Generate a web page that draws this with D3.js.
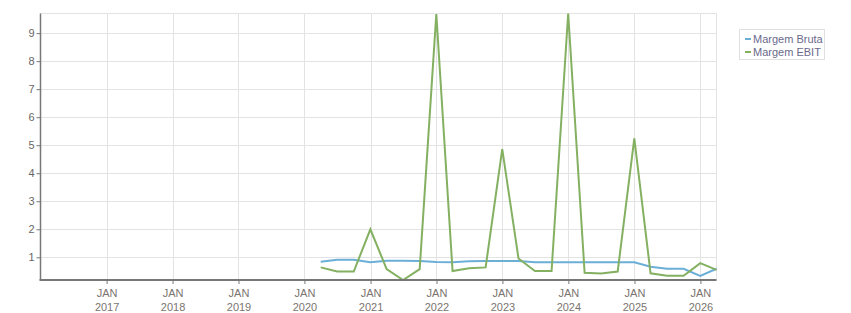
<!DOCTYPE html>
<html><head><meta charset="utf-8">
<script src="https://cdn.jsdelivr.net/npm/d3@7"></script>
<style>
body{margin:0;background:#fff;}
svg{display:block;font-family:"Liberation Sans",Arial,sans-serif;}
</style></head><body>
<svg id="c" width="851" height="313"></svg>
<script>
const quarters = ["2020-03-31","2020-06-30","2020-09-30","2020-12-31",
"2021-03-31","2021-06-30","2021-09-30","2021-12-31",
"2022-03-31","2022-06-30","2022-09-30","2022-12-31",
"2023-03-31","2023-06-30","2023-09-30","2023-12-31",
"2024-03-31","2024-06-30","2024-09-30","2024-12-31",
"2025-03-31","2025-06-30","2025-09-30","2025-12-31","2026-03-31"];
const margemBruta = [0.84,0.91,0.91,0.82,0.88,0.88,0.87,0.83,0.82,0.86,0.87,0.87,0.87,0.82,0.82,0.82,0.82,0.82,0.82,0.82,0.66,0.59,0.59,0.34,0.59];
const margemEBIT = [0.64,0.49,0.49,2.0,0.58,0.19,0.58,9.68,0.51,0.61,0.64,4.86,0.96,0.51,0.51,9.7,0.45,0.42,0.49,5.24,0.43,0.34,0.34,0.79,0.55];
const seriesNames = ["Margem Bruta","Margem EBIT"];
const colors = ["#6baed6","#84b062"];
const yTicks = [1,2,3,4,5,6,7,8,9];
const xTickYears = [2017,2018,2019,2020,2021,2022,2023,2024,2025,2026];

const parse = d3.timeParse("%Y-%m-%d");
const dates = quarters.map(parse);
const svg = d3.select("#c");
const m = {l:40.5, r:716.5, t:13.5, b:280};

const x = d3.scaleTime().domain([new Date(2016,0,1), dates[dates.length-1]]).range([m.l, m.r]);
const allVals = margemBruta.concat(margemEBIT);
const y = d3.scaleLinear().domain(d3.extent(allVals)).range([m.b, m.t]);

const g = svg.append("g");
// grid
g.selectAll(".hg").data(yTicks).join("line")
  .attr("x1", m.l).attr("x2", m.r).attr("y1", d=>Math.round(y(d))+0.5).attr("y2", d=>Math.round(y(d))+0.5)
  .attr("stroke","#e3e3e3").attr("stroke-width",1);
const xTicks = xTickYears.map(yr=>new Date(yr,0,1));
g.selectAll(".vg").data(xTicks).join("line")
  .attr("y1", m.t).attr("y2", m.b).attr("x1", d=>Math.round(x(d))+0.5).attr("x2", d=>Math.round(x(d))+0.5)
  .attr("stroke","#e3e3e3").attr("stroke-width",1);
// top & right border
g.append("line").attr("x1",m.l).attr("x2",m.r).attr("y1",m.t).attr("y2",m.t).attr("stroke","#e3e3e3");
g.append("line").attr("x1",m.r).attr("x2",m.r).attr("y1",m.t).attr("y2",m.b).attr("stroke","#e3e3e3");

// lines
const series = [margemBruta, margemEBIT];
const line = d3.line().x((d,i)=>x(dates[i])).y(d=>y(d));
series.forEach((s,k)=>{
  g.append("path").datum(s).attr("d", line).attr("fill","none")
   .attr("stroke", colors[k]).attr("stroke-width", 2);
});

// y axis
const yAxis = d3.axisLeft(y).tickValues(yTicks).tickSize(4).tickFormat(d3.format("d"));
const ya = svg.append("g").attr("transform",`translate(${m.l},0)`).call(yAxis);
ya.select(".domain").attr("stroke","#777").attr("stroke-width",1.5).attr("d",`M0,${m.t}V${m.b}`);
ya.selectAll(".tick line").attr("stroke","#777");
ya.selectAll(".tick text").attr("fill","#666").attr("font-size",11).attr("x",-6)
  .attr("font-family","'Liberation Sans',Arial,sans-serif");

// x axis
const xAxis = d3.axisBottom(x).tickValues(xTicks).tickSize(4).tickFormat("");
const xa = svg.append("g").attr("transform",`translate(0,${m.b})`).call(xAxis);
xa.select(".domain").attr("stroke","#777").attr("stroke-width",2.2).attr("d",`M${m.l-1},0H${m.r}`);
xa.selectAll(".tick line").attr("stroke","#777");
xa.selectAll(".tick").each(function(d){
  const t = d3.select(this);
  t.append("text").attr("y",17).attr("text-anchor","middle").attr("fill","#7a7470").attr("font-size",11).text("JAN");
  t.append("text").attr("y",31).attr("text-anchor","middle").attr("fill","#7a7470").attr("font-size",11).text(d.getFullYear());
});

// legend
const lg = svg.append("g");
lg.append("rect").attr("x",739.5).attr("y",29.5).attr("width",85).attr("height",30)
  .attr("fill","#fff").attr("stroke","#e0e0e0");
seriesNames.forEach((n,i)=>{
  const yy = 39 + i*13;
  lg.append("line").attr("x1",745).attr("x2",751).attr("y1",yy).attr("y2",yy).attr("stroke",colors[i]).attr("stroke-width",2);
  lg.append("text").attr("x",753).attr("y",yy+4).attr("font-size",11).attr("fill","#6a6a8c").text(n);
});
</script>
</body></html>
